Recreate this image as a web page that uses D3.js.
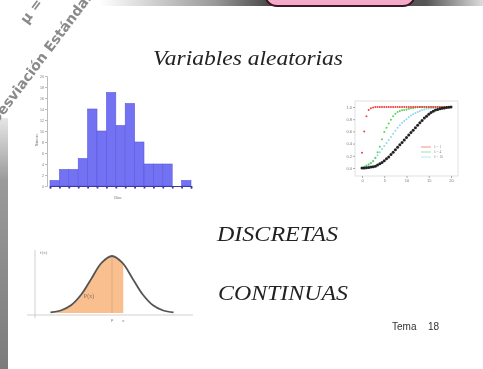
<!DOCTYPE html>
<html>
<head>
<meta charset="utf-8">
<script src="https://cdn.jsdelivr.net/npm/d3@7"></script>
<style>
  body { margin: 0; background: #fff; }
</style>
</head>
<body>
<svg width="483" height="369"></svg>
<script>
const body = d3.select("body");
const chart = body.select("svg");

// histogram (discrete)
const histCounts = [1, 3, 3, 5, 14, 10, 17, 11, 15, 8, 4, 4, 4, 0, 1];
const histTicks = [0, 2, 4, 6, 8, 10, 12, 14, 16, 18, 20];

// cumulative curves (upper right)
const cdfX = [0, 0.5, 1, 1.5, 2, 2.5, 3, 3.5, 4, 4.5, 5, 5.5, 6, 6.5, 7, 7.5, 8, 8.5, 9, 9.5, 10,
              10.5, 11, 11.5, 12, 12.5, 13, 13.5, 14, 14.5, 15, 15.5, 16, 16.5, 17, 17.5, 18, 18.5, 19, 19.5, 20];
const cdfBlack = [0, 0, 0.005, 0.01, 0.015, 0.02, 0.03, 0.05, 0.07, 0.09, 0.12, 0.15, 0.18, 0.22, 0.26, 0.30, 0.34,
                  0.38, 0.42, 0.46, 0.50, 0.54, 0.58, 0.62, 0.66, 0.70, 0.74, 0.78, 0.82, 0.85, 0.88, 0.91, 0.93,
                  0.95, 0.96, 0.97, 0.98, 0.985, 0.99, 0.995, 1.0];
const cdfRed = [0.25, 0.6, 0.85, 0.95, 0.98, 0.99, 1, 1, 1, 1, 1, 1, 1, 1, 1, 1, 1, 1, 1, 1, 1,
                1, 1, 1, 1, 1, 1, 1, 1, 1, 1, 1, 1, 1, 1, 1, 1, 1, 1, 1, 1];
const cdfGreen = [0.0, 0.02, 0.04, 0.06, 0.08, 0.11, 0.17, 0.26, 0.35, 0.47, 0.59, 0.66, 0.73, 0.79, 0.85, 0.89, 0.92,
                  0.935, 0.945, 0.95, 0.96, 0.97, 0.98, 0.985, 0.99, 0.995, 1, 1, 1, 1, 1, 1, 1, 1, 1, 1, 1, 1, 1, 1, 1];
const cdfCyan = [0.0, 0.01, 0.03, 0.05, 0.08, 0.12, 0.16, 0.21, 0.26, 0.31, 0.36, 0.41, 0.46, 0.51, 0.56, 0.61, 0.66,
                 0.70, 0.74, 0.77, 0.80, 0.83, 0.86, 0.88, 0.90, 0.92, 0.935, 0.95, 0.96, 0.97, 0.975, 0.98, 0.985,
                 0.99, 0.99, 0.995, 0.995, 1, 1, 1, 1];
const cdfXTicks = [0, 5, 10, 15, 20];
const cdfYTicks = [0, 0.2, 0.4, 0.6, 0.8, 1.0];
const legendNames = ["λ = 1", "λ = 4", "λ = 10"];

// normal density (lower left)
const normX = [-3, -2.5, -2, -1.5, -1, -0.5, 0, 0.5, 1, 1.5, 2, 2.5, 3];
const normY = [0.0044, 0.0175, 0.054, 0.1295, 0.242, 0.352, 0.399, 0.352, 0.242, 0.1295, 0.054, 0.0175, 0.0044];
const normCut = 0.55;

const defs = chart.append("defs");

defs.append("filter").attr("id", "soft")
    .append("feGaussianBlur").attr("stdDeviation", 0.55);

let topGrad = defs.append("linearGradient").attr("id", "topGrad");
topGrad.append("stop").attr("offset", "0%").attr("stop-color", "#fff");
topGrad.append("stop").attr("offset", "30%").attr("stop-color", "#999");
topGrad.append("stop").attr("offset", "45%").attr("stop-color", "#444");
topGrad.append("stop").attr("offset", "85%").attr("stop-color", "#555");
topGrad.append("stop").attr("offset", "100%").attr("stop-color", "#ddd");

let leftGrad = defs.append("linearGradient").attr("id", "leftGrad")
                   .attr("x1", 0).attr("y1", 0).attr("x2", 0).attr("y2", 1);
leftGrad.append("stop").attr("offset", "0%").attr("stop-color", "#e6e6e6");
leftGrad.append("stop").attr("offset", "25%").attr("stop-color", "#9a9a9a");
leftGrad.append("stop").attr("offset", "100%").attr("stop-color", "#7c7c7c");

const page = chart.append("g").attr("filter", "url(#soft)");

// slide decorations
page.append("rect")
    .attr("x", 100).attr("y", 0).attr("width", 383).attr("height", 6)
    .attr("fill", "url(#topGrad)");

page.append("rect")
    .attr("x", 265).attr("y", -20).attr("width", 150).attr("height", 26)
    .attr("rx", 12)
    .attr("fill", "#f5a9c8")
    .attr("stroke", "#3a1628")
    .attr("stroke-width", 2);

page.append("rect")
    .attr("x", 0).attr("y", 118).attr("width", 8).attr("height", 251)
    .attr("fill", "url(#leftGrad)");

// rotated labels in the corner, cut by the edge as on the slide
page.append("text")
    .attr("transform", "translate(45,61) rotate(-53)")
    .attr("text-anchor", "middle")
    .attr("font-family", "DejaVu Sans")
    .attr("font-weight", "bold")
    .attr("font-size", 14)
    .attr("fill", "#8a8a8a")
    .text("Desviación Estándar");

page.append("text")
    .attr("transform", "translate(35,14) rotate(-53)")
    .attr("text-anchor", "middle")
    .attr("font-family", "DejaVu Sans")
    .attr("font-weight", "bold")
    .attr("font-size", 14)
    .attr("fill", "#8a8a8a")
    .text("μ =");

// titles
function slideText(txt, x, y, len) {
    page.append("text")
        .attr("x", x).attr("y", y)
        .attr("font-family", "Liberation Serif")
        .attr("font-style", "italic")
        .attr("font-size", 22)
        .attr("fill", "#222")
        .attr("textLength", len)
        .attr("lengthAdjust", "spacingAndGlyphs")
        .text(txt);
}
slideText("Variables aleatorias", 153, 65, 190);
slideText("DISCRETAS", 217, 241, 121);
slideText("CONTINUAS", 218, 300, 130);

let tema = page.append("text")
               .attr("y", 330)
               .attr("font-family", "Liberation Sans")
               .attr("font-size", 10)
               .attr("fill", "#333");
tema.append("tspan").attr("x", 392).text("Tema");
tema.append("tspan").attr("x", 428).text("18");

// ---------- histogram ----------
const hx = d3.scaleLinear().domain([0, histCounts.length]).range([50, 191]);
const hy = d3.scaleLinear().domain([0, 20]).range([186, 76]);

const hist = page.append("g");

hist.selectAll("rect.bar")
    .data(histCounts)
    .enter()
    .append("rect")
    .attr("class", "bar")
    .attr("x", (d, i) => hx(i))
    .attr("y", (d) => hy(d))
    .attr("width", hx(1) - hx(0))
    .attr("height", (d) => hy(0) - hy(d))
    .attr("fill", "#7272f3")
    .attr("stroke", "#5a5ae2")
    .attr("stroke-width", 0.6);

hist.append("g")
    .attr("transform", "translate(47,0)")
    .call(d3.axisLeft(hy).tickValues(histTicks).tickSize(2).tickPadding(1))
    .call((g) => g.select(".domain").attr("stroke", "#bbb"))
    .call((g) => g.selectAll(".tick line").attr("stroke", "#bbb"))
    .call((g) => g.selectAll("text").attr("font-size", 3.5).attr("fill", "#777"));

hist.append("g")
    .attr("transform", "translate(0,186)")
    .call(d3.axisBottom(hx).ticks(15).tickSize(2.5).tickFormat(""))
    .call((g) => g.select(".domain").attr("stroke", "#3a3aa0").attr("stroke-width", 1.2))
    .call((g) => g.selectAll(".tick line").attr("stroke", "#3a3aa0").attr("stroke-width", 1.8));

hist.append("text")
    .attr("transform", "translate(38,140) rotate(-90)")
    .attr("text-anchor", "middle")
    .attr("font-size", 4)
    .attr("fill", "#777")
    .text("Número");

hist.append("text")
    .attr("x", 118).attr("y", 199)
    .attr("text-anchor", "middle")
    .attr("font-size", 4)
    .attr("fill", "#777")
    .text("Bins");

// ---------- cumulative plot ----------
const cx = d3.scaleLinear().domain([0, 20]).range([362, 451]);
const cy = d3.scaleLinear().domain([0, 1]).range([168, 107]);

const cdf = page.append("g");

cdf.append("rect")
   .attr("x", 355).attr("y", 101).attr("width", 103).attr("height", 75)
   .attr("fill", "none")
   .attr("stroke", "#ccc")
   .attr("stroke-width", 0.6);

cdf.append("g")
   .attr("transform", "translate(355,0)")
   .call(d3.axisLeft(cy).tickValues(cdfYTicks).tickSize(2).tickPadding(1).tickFormat(d3.format(".1f")))
   .call((g) => g.select(".domain").remove())
   .call((g) => g.selectAll(".tick line").attr("stroke", "#aaa"))
   .call((g) => g.selectAll("text").attr("font-size", 4).attr("fill", "#777"));

cdf.append("g")
   .attr("transform", "translate(0,176)")
   .call(d3.axisBottom(cx).tickValues(cdfXTicks).tickSize(2).tickPadding(1))
   .call((g) => g.select(".domain").remove())
   .call((g) => g.selectAll(".tick line").attr("stroke", "#aaa"))
   .call((g) => g.selectAll("text").attr("font-size", 4).attr("fill", "#777"));

const series = [
    { vals: cdfCyan,  color: "#8fd6f0", r: 1.0 },
    { vals: cdfGreen, color: "#55d455", r: 1.0 },
    { vals: cdfRed,   color: "#f04040", r: 1.0 },
    { vals: cdfBlack, color: "#222",    r: 1.5 }
];

series.forEach((s) => {
    cdf.append("g")
       .selectAll("circle")
       .data(s.vals)
       .enter()
       .append("circle")
       .attr("cx", (d, i) => cx(cdfX[i]))
       .attr("cy", (d) => cy(d))
       .attr("r", s.r)
       .attr("fill", s.color);
});

const legend = cdf.append("g");
legendNames.forEach((name, i) => {
    let y = 147 + i * 5;
    legend.append("line")
          .attr("x1", 421).attr("x2", 431)
          .attr("y1", y).attr("y2", y)
          .attr("stroke", ["#f04040", "#55d455", "#8fd6f0"][i])
          .attr("stroke-width", 0.6);
    legend.append("text")
          .attr("x", 434).attr("y", y + 1.3)
          .attr("font-size", 3.5)
          .attr("fill", "#888")
          .text(name);
});

// ---------- normal density ----------
const nx = d3.scaleLinear().domain([-4, 4]).range([30, 194]);
const ny = d3.scaleLinear().domain([0, 0.399]).range([313, 256]);

const norm = page.append("g");

defs.append("clipPath").attr("id", "cutClip")
    .append("rect")
    .attr("x", 0).attr("y", 0)
    .attr("width", nx(normCut)).attr("height", 369);

const normPts = normX.map((x, i) => [x, normY[i]]);

norm.append("path")
    .datum(normPts)
    .attr("clip-path", "url(#cutClip)")
    .attr("fill", "#f9bf8e")
    .attr("d", d3.area()
                 .x((d) => nx(d[0]))
                 .y0(ny(0))
                 .y1((d) => ny(d[1]))
                 .curve(d3.curveCatmullRom));

norm.append("line")
    .attr("x1", 35).attr("x2", 35)
    .attr("y1", 250).attr("y2", 318)
    .attr("stroke", "#bbb").attr("stroke-width", 0.7);

norm.append("line")
    .attr("x1", 27).attr("x2", 193)
    .attr("y1", 315).attr("y2", 315)
    .attr("stroke", "#bbb").attr("stroke-width", 0.7);

norm.append("line")
    .attr("x1", nx(0)).attr("x2", nx(0))
    .attr("y1", ny(0)).attr("y2", ny(0.399))
    .attr("stroke", "#c9a08a").attr("stroke-width", 0.6);

norm.append("path")
    .datum(normPts)
    .attr("fill", "none")
    .attr("stroke", "#555")
    .attr("stroke-width", 1.8)
    .attr("d", d3.line()
                 .x((d) => nx(d[0]))
                 .y((d) => ny(d[1]))
                 .curve(d3.curveCatmullRom));

norm.append("text")
    .attr("x", 40).attr("y", 254)
    .attr("font-size", 5).attr("fill", "#888")
    .text("f(x)");

norm.append("text")
    .attr("x", 89).attr("y", 298)
    .attr("text-anchor", "middle")
    .attr("font-size", 6).attr("fill", "#8a7060")
    .text("P(x)");

norm.append("text")
    .attr("x", nx(0)).attr("y", 321)
    .attr("text-anchor", "middle")
    .attr("font-size", 5).attr("fill", "#777")
    .text("μ");

norm.append("text")
    .attr("x", nx(normCut)).attr("y", 322)
    .attr("text-anchor", "middle")
    .attr("font-size", 5).attr("fill", "#6a7ab0")
    .text("x");
</script>
</body>
</html>
